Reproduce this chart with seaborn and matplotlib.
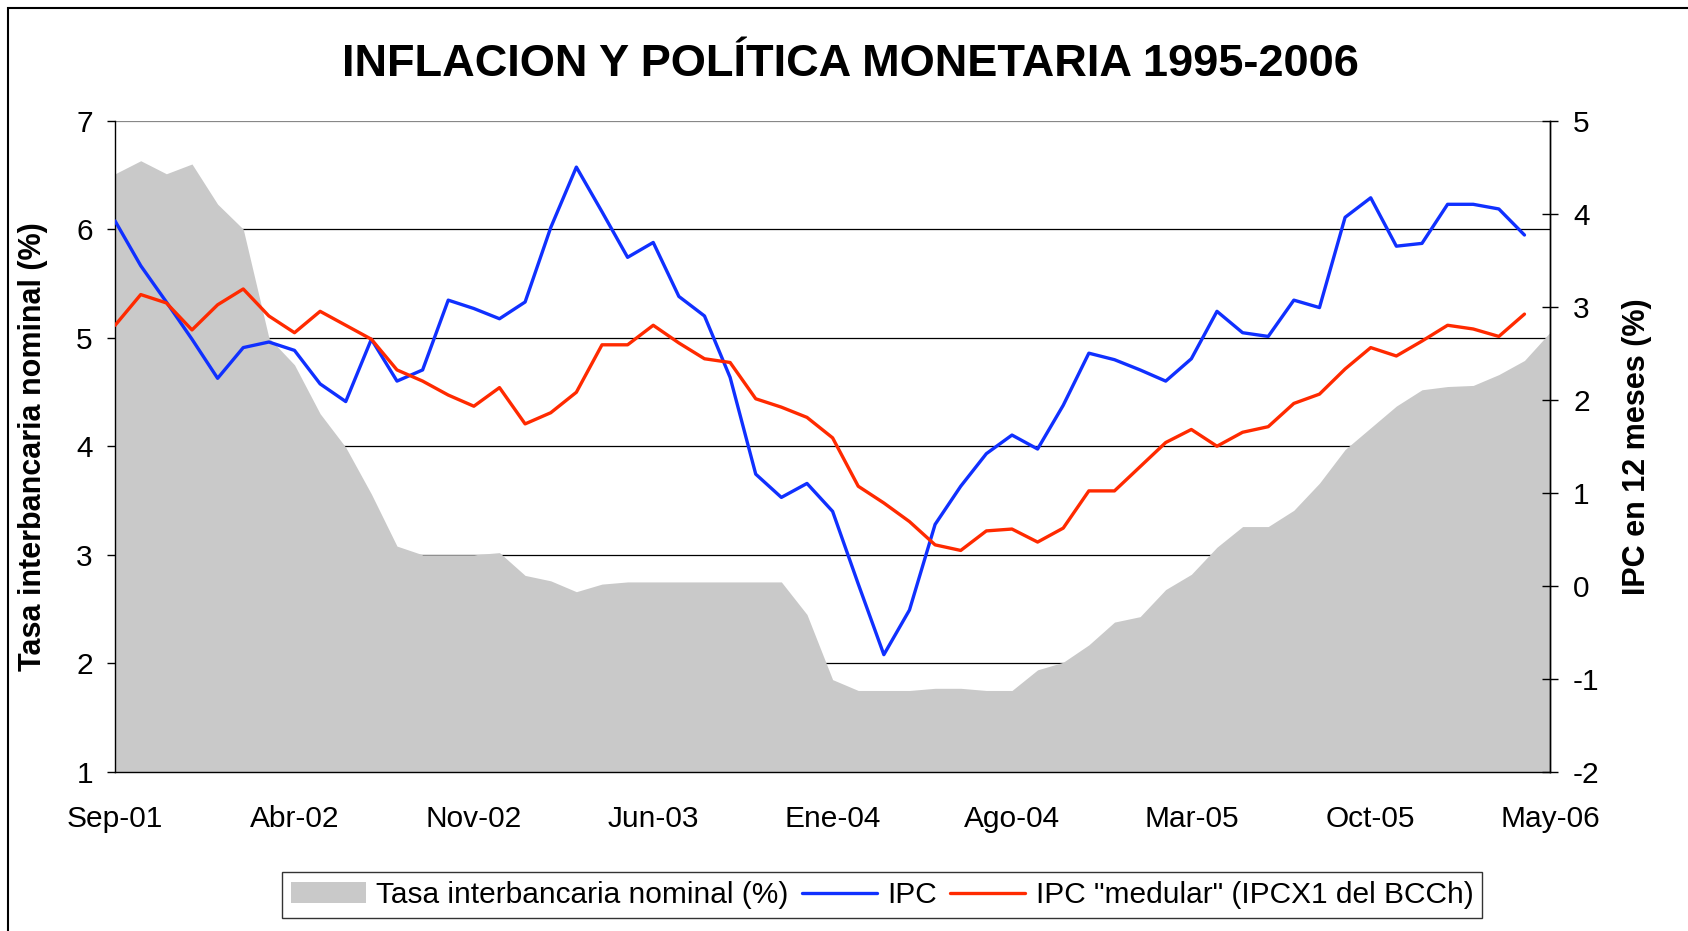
import numpy as np
import pandas as pd
import matplotlib
matplotlib.use("Agg")
import matplotlib.pyplot as plt
import seaborn as sns
from matplotlib.patches import Rectangle, Patch
from matplotlib.lines import Line2D

# ---------------- data ----------------
meses_es = ['Ene', 'Feb', 'Mar', 'Abr', 'May', 'Jun', 'Jul', 'Ago', 'Sep', 'Oct', 'Nov', 'Dic']
months = [f"{meses_es[(8 + i) % 12]}-{(2001 + (8 + i) // 12) % 100:02d}" for i in range(57)]

tick_labels = ['Sep-01', 'Abr-02', 'Nov-02', 'Jun-03', 'Ene-04', 'Ago-04', 'Mar-05', 'Oct-05', 'May-06']

tasa = [6.51, 6.63, 6.51, 6.60, 6.23, 6.00, 5.00, 4.75, 4.30, 3.99,
        3.56, 3.08, 3.00, 3.00, 3.00, 3.02, 2.81, 2.76, 2.66, 2.73,
        2.75, 2.75, 2.75, 2.75, 2.75, 2.75, 2.75, 2.45, 1.85, 1.75,
        1.75, 1.75, 1.77, 1.77, 1.75, 1.75, 1.94, 2.01, 2.17, 2.38,
        2.43, 2.68, 2.82, 3.07, 3.26, 3.26, 3.41, 3.66, 3.97, 4.17,
        4.37, 4.52, 4.55, 4.56, 4.66, 4.79, 5.05]

ipc = [3.92, 3.44, 3.05, 2.65, 2.23, 2.56, 2.62, 2.53, 2.17, 1.98,
       2.65, 2.20, 2.32, 3.07, 2.98, 2.87, 3.05, 3.85, 4.50, 4.02,
       3.53, 3.69, 3.11, 2.90, 2.24, 1.20, 0.95, 1.10, 0.80, 0.02,
       -0.74, -0.26, 0.66, 1.07, 1.42, 1.62, 1.47, 1.94, 2.50, 2.43,
       2.32, 2.20, 2.44, 2.95, 2.72, 2.68, 3.07, 2.99, 3.96, 4.17,
       3.65, 3.68, 4.10, 4.10, 4.05, 3.77]

ipcx1 = [2.80, 3.13, 3.04, 2.75, 3.02, 3.19, 2.90, 2.72, 2.95, 2.80,
         2.65, 2.32, 2.20, 2.05, 1.93, 2.13, 1.74, 1.86, 2.08, 2.59,
         2.59, 2.80, 2.61, 2.44, 2.40, 2.01, 1.92, 1.81, 1.59, 1.07,
         0.89, 0.69, 0.44, 0.38, 0.59, 0.61, 0.47, 0.62, 1.02, 1.02,
         1.28, 1.54, 1.68, 1.50, 1.65, 1.71, 1.96, 2.06, 2.33, 2.56,
         2.47, 2.63, 2.80, 2.76, 2.68, 2.92]

series_names = ['Tasa interbancaria nominal (%)', 'IPC', 'IPC "medular" (IPCX1 del BCCh)']

# ---------------- style ----------------
sns.set_style("white")
plt.rcParams['font.family'] = ['Liberation Sans', 'DejaVu Sans']
plt.rcParams['axes.unicode_minus'] = False
plt.rcParams['text.color'] = 'black'
plt.rcParams['axes.labelcolor'] = 'black'
plt.rcParams['xtick.color'] = 'black'
plt.rcParams['ytick.color'] = 'black'

GRAY = '#C9C9C9'
BLUE = '#1030FF'
RED = '#FF2A00'

df = pd.DataFrame({
    'idx': np.arange(len(months)),
    'mes': months,
    'tasa': tasa,
    'IPC': ipc + [np.nan] * (len(months) - len(ipc)),
    'IPCX1': ipcx1 + [np.nan] * (len(months) - len(ipcx1)),
})

fig = plt.figure(figsize=(16.88, 9.31), dpi=100)
ax = fig.add_axes([0.0682, 0.1709, 0.8501, 0.6996])

ax.fill_between(df['idx'], 1, df['tasa'], color=GRAY, lw=0, zorder=2)
ax.set_xlim(0, len(months) - 1)
ax.set_ylim(1, 7)
ax.set_yticks(range(1, 8))
ax.set_axisbelow(True)
ax.grid(axis='y', color='black', lw=0.9)
ax.grid(axis='x', visible=False)
ax.yaxis.get_gridlines()[-1].set_color('#888888')

tick_pos = [months.index(t) for t in tick_labels]
ax.set_xticks(tick_pos)
ax.set_xticklabels(tick_labels)
ax.tick_params(axis='x', length=0, pad=24, labelsize=21.5, labelcolor='black')
ax.tick_params(axis='y', direction='out', length=6, width=1, pad=10,
               labelsize=21.5, left=True, color='black', labelcolor='black')

for s in ['left', 'bottom', 'right']:
    ax.spines[s].set_color('black')
    ax.spines[s].set_linewidth(1.0)
ax.spines['top'].set_visible(False)

ax2 = ax.twinx()
sns.lineplot(data=df, x='idx', y='IPC', ax=ax2, color=BLUE, lw=2.4)
sns.lineplot(data=df, x='idx', y='IPCX1', ax=ax2, color=RED, lw=2.4)
ax2.set_xlim(0, len(months) - 1)
ax2.set_ylim(-2, 5)
ax2.set_yticks(range(-2, 6))
ax2.grid(False)
ax2.tick_params(axis='y', direction='inout', length=12, width=1, pad=10.5,
                labelsize=21.5, right=True, color='black', labelcolor='black')
for s in ['top', 'left', 'bottom']:
    ax2.spines[s].set_visible(False)
ax2.spines['right'].set_color('black')
ax2.spines['right'].set_linewidth(1.0)
ax.set_xlabel('')
ax.set_ylabel('')
ax2.set_xlabel('')
ax2.set_ylabel('')

# labels & title
fig.text(0.504, 0.9306, 'INFLACION Y POLÍTICA MONETARIA 1995-2006',
         ha='center', va='center', fontsize=32.5, fontweight='bold', color='black')
fig.text(0.0195, 0.5207, 'Tasa interbancaria nominal (%)', rotation=90,
         ha='center', va='center', fontsize=22, fontweight='bold', color='black')
fig.text(0.9695, 0.5207, 'IPC en 12 meses (%)', rotation=90,
         ha='center', va='center', fontsize=22, fontweight='bold', color='black')

# outer frame (top and left visible)
fig.patches.append(Rectangle((0.0045, -0.1), 1.2, 1.091, transform=fig.transFigure,
                             fill=False, edgecolor='black', lw=1.5))

handles = [Patch(facecolor=GRAY, edgecolor='none'),
           Line2D([], [], color=BLUE, lw=2.4),
           Line2D([], [], color=RED, lw=2.4)]
leg = fig.legend(handles, series_names, loc='center', bbox_to_anchor=(0.5227, 0.0387),
                 ncol=3, frameon=True, fancybox=False, edgecolor='black',
                 fontsize=21.5, handlelength=2.5, columnspacing=0.45,
                 handletextpad=0.35, borderpad=0.3, borderaxespad=0,
                 labelcolor='black')
leg.get_frame().set_linewidth(1.0)

fig.savefig('out.png', dpi=100)
